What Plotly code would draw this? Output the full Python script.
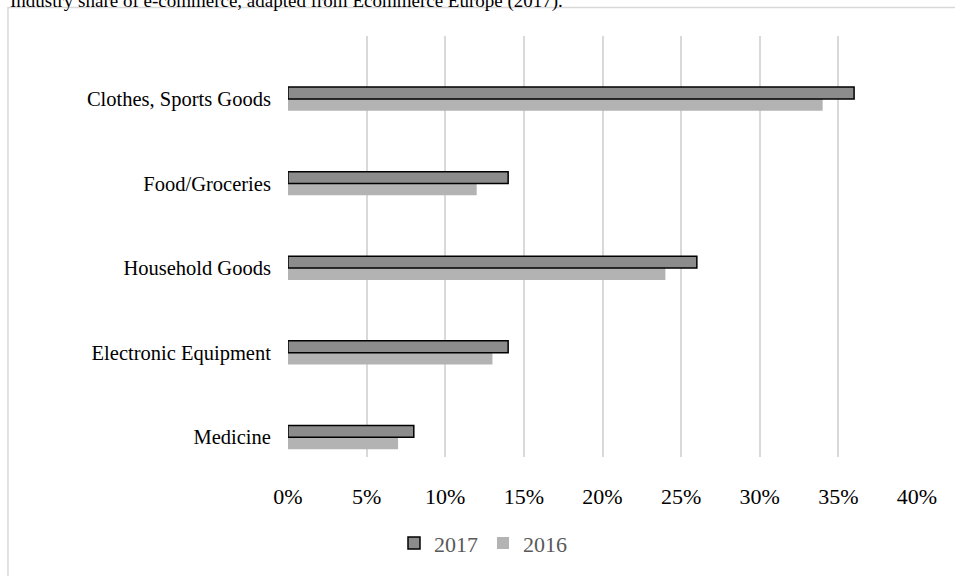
import plotly.graph_objects as go

categories = ["Clothes, Sports Goods", "Food/Groceries", "Household Goods",
              "Electronic Equipment", "Medicine"]
share_2017 = [0.36, 0.14, 0.26, 0.14, 0.08]
share_2016 = [0.34, 0.12, 0.24, 0.13, 0.07]
x_ticks = [0, 0.05, 0.10, 0.15, 0.20, 0.25, 0.30, 0.35, 0.40]
caption = "Industry share of e-commerce, adapted from Ecommerce Europe (2017)."

serif = "Liberation Serif, Times New Roman, serif"

fig = go.Figure()
fig.add_trace(go.Bar(
    y=categories, x=share_2016, name="2016", orientation="h",
    marker=dict(color="#b3b3b3", line=dict(width=0)),
    legendrank=2,
))
fig.add_trace(go.Bar(
    y=categories, x=share_2017, name="2017", orientation="h",
    marker=dict(color="#8c8c8c", line=dict(color="#000000", width=1.5)),
    legendrank=1,
))

fig.update_layout(
    width=955, height=576,
    margin=dict(l=288, r=38, t=36, b=112),
    paper_bgcolor="white", plot_bgcolor="white",
    barmode="group", bargap=0.72, bargroupgap=0,
    showlegend=True,
    legend=dict(orientation="h", x=0.31, xanchor="center", y=-0.205,
                yanchor="middle", font=dict(family=serif, size=22, color="#595959"),
                traceorder="normal", itemwidth=30),
    xaxis=dict(range=[0, 0.40], tickvals=x_ticks, tickformat=".0%",
               showgrid=True, gridcolor="#d9d9d9", gridwidth=1.5,
               zeroline=False, showline=False,
               ticks="outside", ticklen=20, tickcolor="rgba(0,0,0,0)",
               tickfont=dict(family=serif, size=22, color="#000000")),
    yaxis=dict(type="category", categoryorder="array",
               categoryarray=categories[::-1],
               range=[-0.233, 4.744], showgrid=False, zeroline=False,
               showline=False, ticks="outside", ticklen=12,
               tickcolor="rgba(0,0,0,0)",
               tickfont=dict(family=serif, size=20.5, color="#000000")),
    shapes=[dict(type="rect", xref="paper", yref="paper",
                 x0=-0.4452, x1=2, y0=-2, y1=1.0678,
                 line=dict(color="#d9d9d9", width=1.5), fillcolor="rgba(0,0,0,0)",
                 layer="below")],
    annotations=[dict(text=caption, xref="paper", yref="paper",
                      x=-0.4452, xanchor="left", y=1.053, yanchor="bottom",
                      showarrow=False,
                      font=dict(family=serif, size=19, color="#000000"))],
)

fig.write_html("out.html")
